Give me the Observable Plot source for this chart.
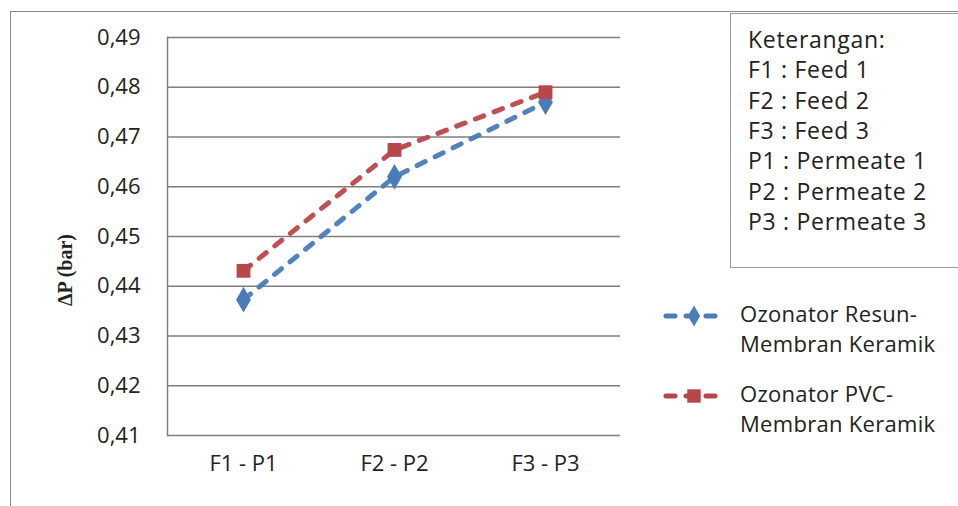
<!DOCTYPE html>
<html>
<head>
<meta charset="utf-8">
<script src="https://cdn.jsdelivr.net/npm/d3@7"></script>
<script src="https://cdn.jsdelivr.net/npm/@observablehq/plot@0.6"></script>
<style>
  body { margin: 0; background: #fff; }
  #wrap { position: relative; width: 958px; height: 506px; overflow: hidden; font-family: "Open Sans", Lato, sans-serif; color: #222; }
  #outer { position: absolute; left: 10px; top: 11px; width: 1000px; height: 600px; border-left: 1.5px solid #8a8a8a; border-top: 1.5px solid #8a8a8a; }
  #ylab { position: absolute; left: 65px; top: 270px; transform: translate(-50%, -50%) rotate(-90deg); font-family: "Liberation Serif", "DejaVu Serif", serif; font-weight: bold; font-size: 20px; white-space: nowrap; color: #222; }
  #note { position: absolute; left: 730px; top: 13px; width: 260px; height: 253px; border: 1.5px solid #9a9a9a; }
  #note div { position: absolute; left: 17px; font-size: 23px; white-space: nowrap; line-height: 1; letter-spacing: 0.7px; }
  .leg { position: absolute; left: 662px; width: 300px; height: 60px; }
  .leg svg { position: absolute; left: 0; top: 0; }
  .leg div { position: absolute; left: 78px; font-size: 22px; line-height: 29.5px; white-space: nowrap; top: -1px; letter-spacing: 0.3px; }
</style>
</head>
<body>
<div id="wrap">
  <div id="outer"></div>
  <div id="chart"></div>
  <div id="ylab"></div>
  <div id="note"></div>
  <div id="legend"></div>
</div>
<script>
// ---- data ----
const categories = ["F1 - P1", "F2 - P2", "F3 - P3"];
const seriesNames = ["Ozonator Resun-\nMembran Keramik", "Ozonator PVC-\nMembran Keramik"];
const resunValues = [0.4373, 0.4620, 0.4770];
const pvcValues = [0.4431, 0.4674, 0.4790];
const yTicks = [0.41, 0.42, 0.43, 0.44, 0.45, 0.46, 0.47, 0.48, 0.49];
const yLabel = "ΔP (bar)";
const noteLines = ["Keterangan:", "F1 : Feed 1", "F2 : Feed 2", "F3 : Feed 3", "P1 : Permeate 1", "P2 : Permeate 2", "P3 : Permeate 3"];
const colors = ["#4a7cba", "#b8474a"];
const symbols = ["diamond", "square"];

const data = [];
categories.forEach((c, i) => {
  data.push({cat: c, value: resunValues[i], series: seriesNames[0]});
  data.push({cat: c, value: pvcValues[i], series: seriesNames[1]});
});

const fmt = d => d3.format(".2f")(d).replace(".", ",");

const plot = Plot.plot({
  width: 958,
  height: 506,
  marginLeft: 167,
  marginRight: 338,
  marginTop: 37,
  marginBottom: 71,
  style: {fontFamily: "'Open Sans', Lato, sans-serif", fontSize: "22px", color: "#222", background: "transparent"},
  x: {type: "point", domain: categories, padding: 0.5, label: null},
  y: {domain: [0.41, 0.49], label: null},
  color: {domain: seriesNames, range: colors},
  symbol: {domain: seriesNames, range: symbols},
  marks: [
    Plot.ruleY(yTicks, {stroke: "#7f7f7f", strokeWidth: 1.5}),
    Plot.frame({anchor: "left", stroke: "#7f7f7f", strokeWidth: 1.5}),
    Plot.axisY(yTicks, {tickSize: 0, tickPadding: 27, tickFormat: fmt, fontSize: 22, fill: "#222"}),
    Plot.axisX({tickSize: 0, tickPadding: 20, fontSize: 22, fill: "#222"}),
    Plot.line(data, {x: "cat", y: "value", stroke: "series", strokeWidth: 5, strokeDasharray: "9,11", strokeLinecap: "round", strokeOpacity: 0.95}),
    Plot.dot(data, {x: "cat", y: "value", fill: "series", symbol: "series", r: 7.8, stroke: "none"})
  ]
});
document.getElementById("chart").appendChild(plot);

document.getElementById("ylab").textContent = yLabel;

const note = document.getElementById("note");
noteLines.forEach((t, i) => {
  const d = document.createElement("div");
  d.textContent = t;
  d.style.top = (14 + i * 30.3) + "px";
  note.appendChild(d);
});

// series legend
const legend = document.getElementById("legend");
seriesNames.forEach((name, i) => {
  const g = document.createElement("div");
  g.className = "leg";
  g.style.top = (300 + i * 80) + "px";
  g.innerHTML = `<svg width="70" height="34"><line x1="4" y1="16" x2="60" y2="16" stroke="${colors[i]}" stroke-width="5" stroke-dasharray="9,11" stroke-linecap="round"/><path d="${d3.symbol(i === 0 ? d3.symbolDiamond : d3.symbolSquare, i === 0 ? 130 : 180)()}" transform="translate(32,16)" fill="${colors[i]}"/></svg>`;
  const t = document.createElement("div");
  t.innerHTML = name.split("\n").join("<br>");
  g.appendChild(t);
  legend.appendChild(g);
});
</script>
</body>
</html>
